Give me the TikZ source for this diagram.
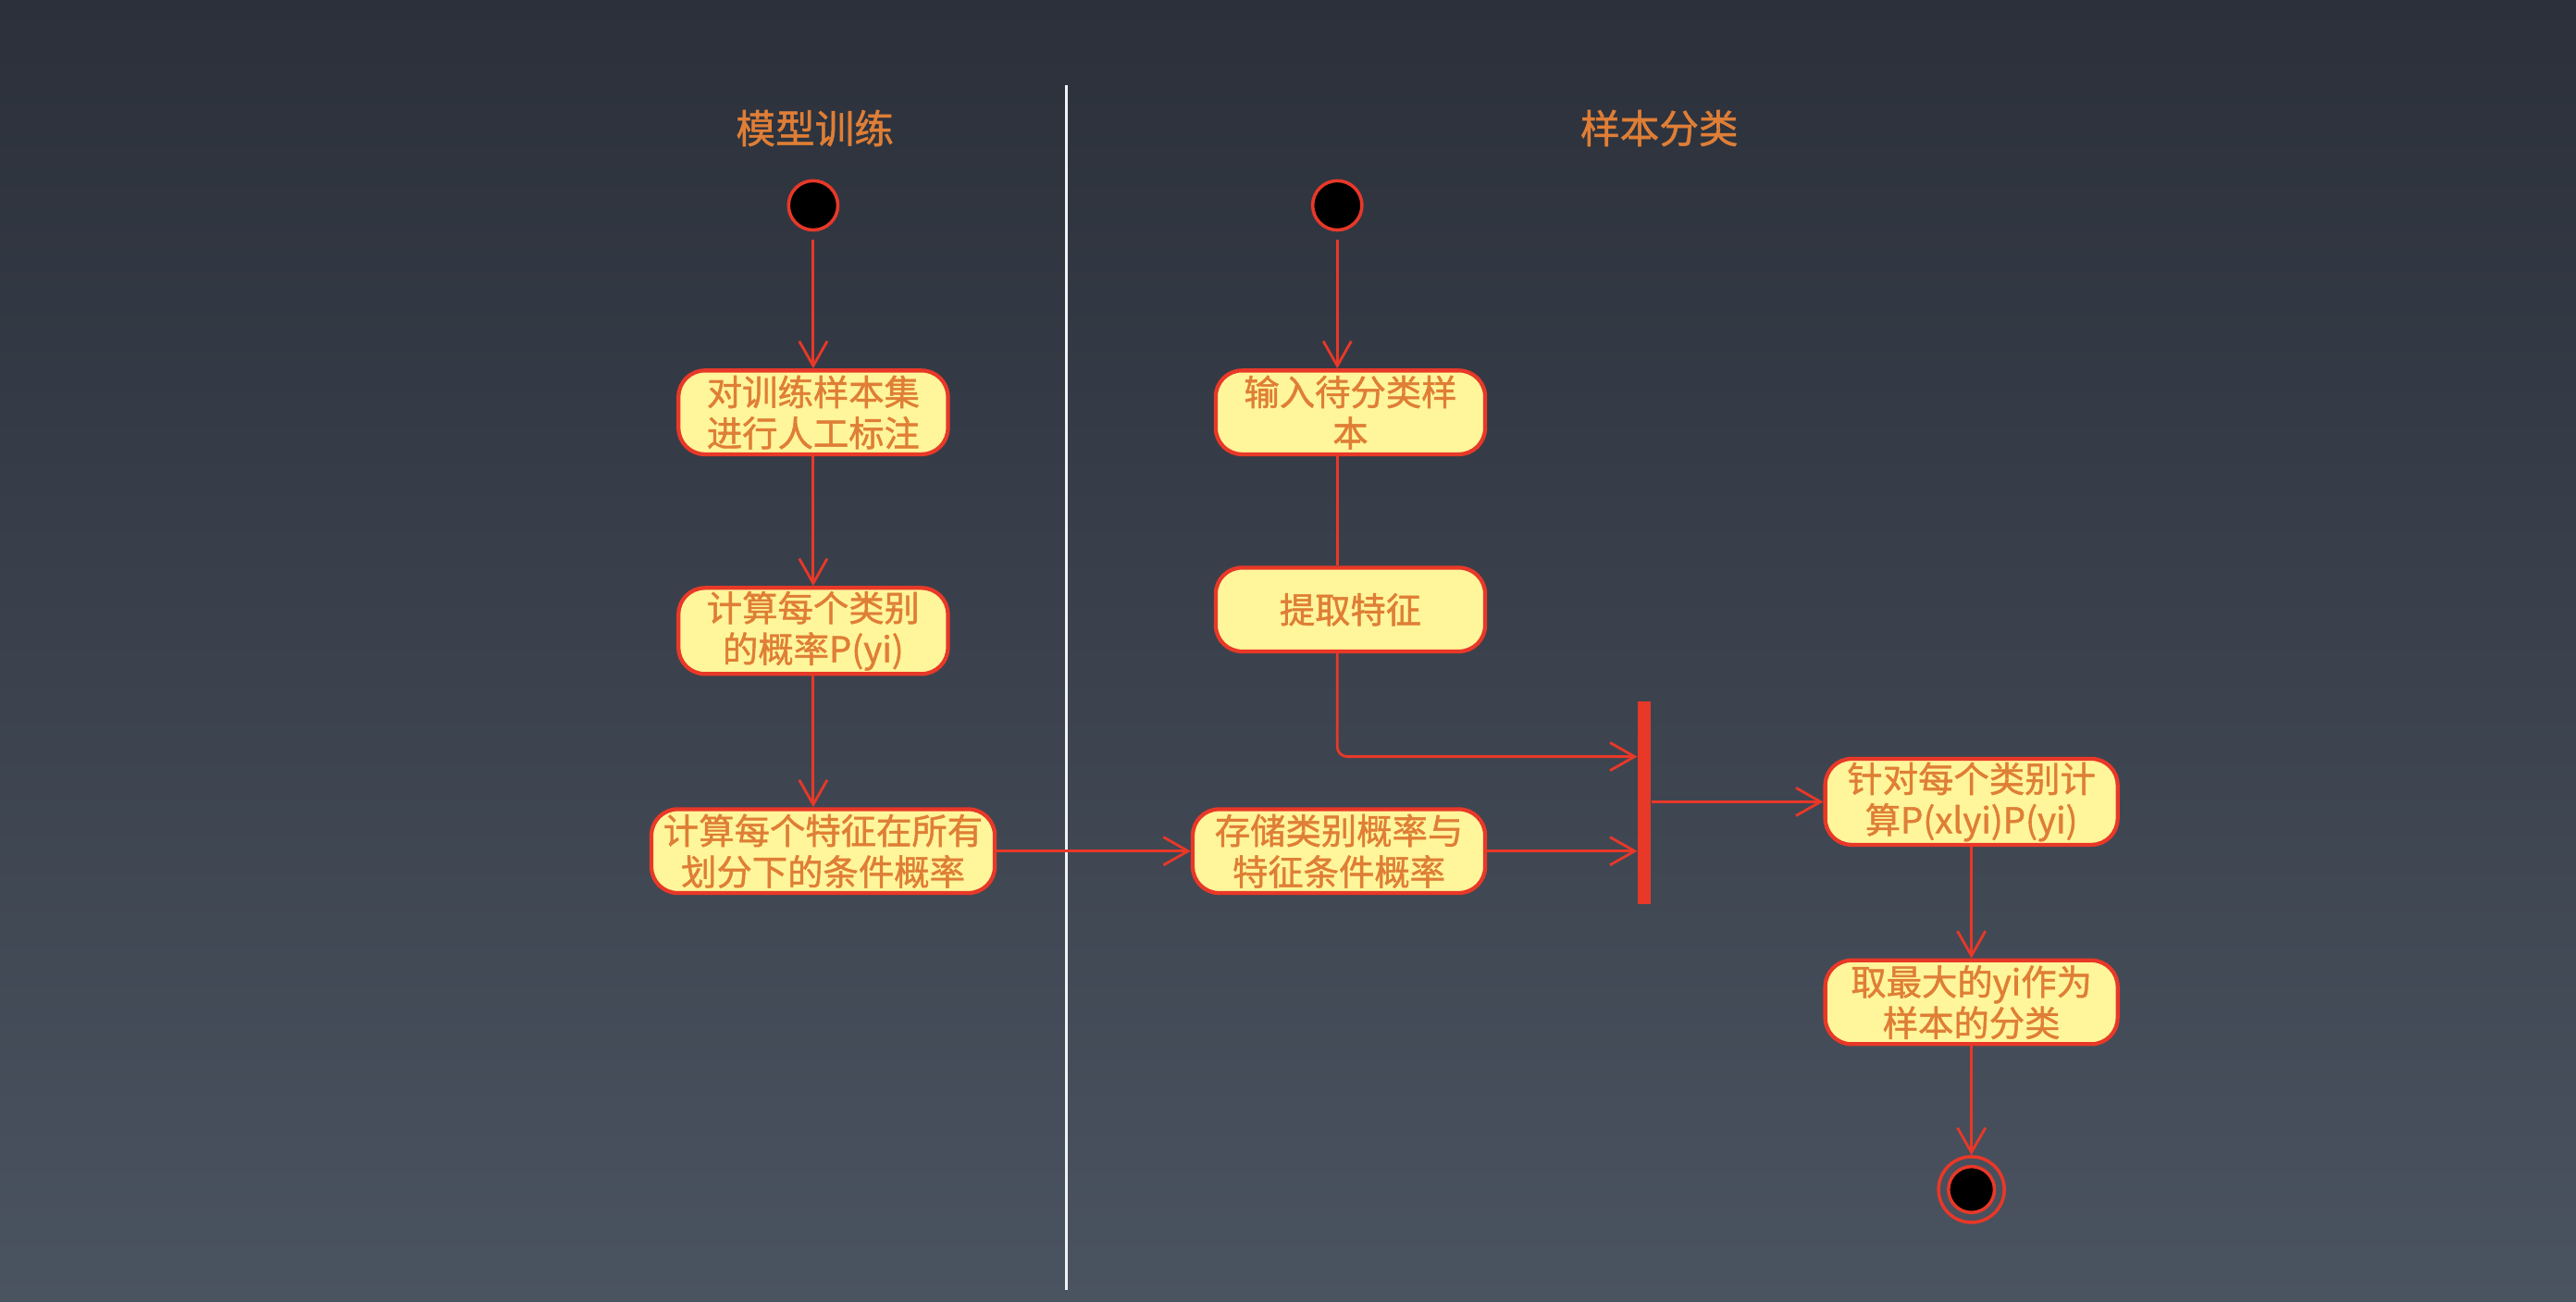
\documentclass[tikz,border=0pt]{standalone}
\usepackage{fontspec}
\setmainfont{Noto Sans CJK SC}
\newfontfamily\medfont{Noto Sans CJK SC}[FakeBold=1.2]
\usetikzlibrary{arrows.meta,positioning}
\definecolor{bgtop}{HTML}{2B303A}
\definecolor{bgbot}{HTML}{4A5360}
\definecolor{umlred}{HTML}{E83828}
\definecolor{umlfill}{HTML}{FFF59A}
\definecolor{umltext}{HTML}{DF7E36}
\definecolor{lanecol}{HTML}{F0F2F5}
\begin{document}
\begin{tikzpicture}[x=0.5pt, y=-0.5pt,
  activity/.style = {shape=rectangle, rounded corners=8pt, draw=umlred,
    line width=1.2pt, fill=umlfill, text=umltext, align=center,
    font=\medfont\fontsize{10.8}{12.5}\selectfont, minimum width=82pt,
    minimum height=25.5pt, inner sep=1pt},
  initial/.style = {circle, draw=umlred, line width=1pt, fill=black,
    minimum size=15pt, inner sep=0pt},
  final/.style = {circle, draw=umlred, line width=1pt, minimum size=20pt,
    inner sep=0pt},
  bar/.style = {rectangle, fill=umlred, minimum width=4pt,
    minimum height=61.5pt, inner sep=0pt},
  lane/.style = {text=umltext, font=\medfont\fontsize{12}{14}\selectfont},
  line/.style = {draw=umlred, line width=0.8pt},
  flow/.style = {line, -{Straight Barb[length=7.5pt,width=8.5pt]}}
  ]
  \shade[top color=bgtop, bottom color=bgbot] (0,0) rectangle (1568,792);
  \useasboundingbox (0,0) rectangle (1568,792);
  \draw[lanecol, line width=1pt] (649,52) -- (649,785);

  % lanes
  \node[lane] (train) at (496,78) {模型训练};
  \node[lane] (classify) at (1010,78) {样本分类};

  % model training
  \node[initial] (s1) at (495,125) {};
  \node[activity] (a1) at (495,251) {对训练样本集\\进行人工标注};
  \node[activity] (a2) at (495,384) {计算每个类别\\的概率P(yi)};
  \node[activity, minimum width=104.5pt] (a3) at (501,518) {计算每个特征在所有\\划分下的条件概率};

  % sample classification
  \node[initial] (s2) at (814,125) {};
  \node[activity] (b1) at (822,251) {输入待分类样\\本};
  \node[activity] (b2) at (822,371) {提取特征};
  \node[activity, minimum width=89pt] (b3) at (815,518) {存储类别概率与\\特征条件概率};
  \node[bar] (fork) at (1001,488.5) {};
  \node[activity, minimum width=89pt] (c1) at (1200,488) {针对每个类别计\\算P(xlyi)P(yi)};
  \node[activity, minimum width=89pt] (c2) at (1200,610) {取最大的yi作为\\样本的分类};
  \node[final] (end) at (1200,724) {};
  \node[initial, minimum size=14pt] (enddot) at (end) {};

  \draw[flow, shorten <=2.5pt] (s1) -- (a1);
  \draw[flow] (a1) -- (a2);
  \draw[flow] (a2.south) -- (a2.south |- a3.north);
  \draw[flow] (a3) -- (b3);
  \draw[flow, shorten <=2.5pt] (s2) -- (s2 |- b1.north);
  \draw[line] (b1.south -| s2) -- (b2.north -| s2);
  \draw[flow, rounded corners=3pt] (b2.south -| s2) |- ([yshift=14pt]fork.west);
  \draw[flow] (b3) -- (b3 -| fork.west);
  \draw[flow] (fork.east |- c1) -- (c1.west);
  \draw[flow] (c1) -- (c2);
  \draw[flow] (c2) -- (end);
\end{tikzpicture}
\end{document}
